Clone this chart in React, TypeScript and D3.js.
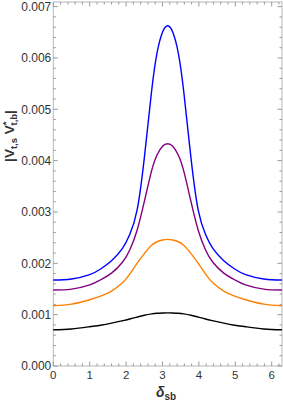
import React, { useEffect, useRef } from 'react';
import * as d3 from 'd3';

// phase delta_sb (radians)
const deltas = [0, 0.5, 1.0, 1.3, 1.6, 1.9, 2.1, 2.3, 2.5, 2.7, 2.85, 3.0, 3.1416,
  3.283, 3.433, 3.583, 3.783, 3.983, 4.183, 4.383, 4.683, 4.983, 5.283, 5.783, 6.2832];

// |V_ts V*_tb|
const blueVals = [0.001674, 0.001695, 0.00178, 0.00189, 0.00205, 0.00229, 0.00256, 0.00303, 0.00405, 0.00535, 0.0061, 0.0065, 0.006626,
  0.0065, 0.0061, 0.00535, 0.00405, 0.00303, 0.00256, 0.00229, 0.00205, 0.00189, 0.00178, 0.001695, 0.001674];
const purpleVals = [0.00148, 0.001497, 0.00158, 0.00168, 0.00181, 0.00202, 0.00226, 0.00264, 0.0032, 0.0038, 0.00411, 0.00428, 0.004328,
  0.00428, 0.00411, 0.0038, 0.0032, 0.00264, 0.00226, 0.00202, 0.00181, 0.00168, 0.00158, 0.001497, 0.00148];
const orangeVals = [0.001174, 0.001205, 0.00129, 0.00136, 0.00146, 0.00162, 0.00179, 0.002, 0.00219, 0.00235, 0.00242, 0.002455, 0.002467,
  0.002455, 0.00242, 0.00235, 0.00219, 0.002, 0.00179, 0.00162, 0.00146, 0.00136, 0.00129, 0.001205, 0.001174];
const blackVals = [0.000706, 0.000722, 0.000765, 0.000795, 0.000835, 0.000882, 0.000915, 0.000952, 0.000988, 0.001015, 0.001027, 0.001033, 0.001035,
  0.001033, 0.001027, 0.001015, 0.000988, 0.000952, 0.000915, 0.000882, 0.000835, 0.000795, 0.000765, 0.000722, 0.000706];

const series = [
  { name: 'blue', values: blueVals, color: '#0000ff' },
  { name: 'purple', values: purpleVals, color: '#800080' },
  { name: 'orange', values: orangeVals, color: '#ff8000' },
  { name: 'black', values: blackVals, color: '#000000' },
];

const xTicks = [0, 1, 2, 3, 4, 5, 6];
const yTicks = [0, 0.001, 0.002, 0.003, 0.004, 0.005, 0.006, 0.007];

const W = 283, H = 403;

const App = () => {
  const ref = useRef<SVGSVGElement>(null);

  useEffect(() => {
    const svg = d3.select(ref.current);
    svg.selectAll('*').remove();

    const left = 53.3, right = 282, top = 2, bottom = 366;
    const x = d3.scaleLinear().domain([0, 2 * Math.PI]).range([left, right]);
    const y = d3.scaleLinear().domain([0, 0.00709]).range([bottom, top]);

    const tickColor = '#9a9a9a';
    const font = '"Liberation Sans", Arial, sans-serif';

    // frame
    svg.append('rect')
      .attr('x', left).attr('y', top)
      .attr('width', right - left).attr('height', bottom - top)
      .attr('fill', 'none').attr('stroke', '#b8b8b8').attr('stroke-width', 1);

    const g = svg.append('g');

    // x ticks (bottom + top), inward
    const xMinor = d3.range(0, 6.3, 0.2).filter((v) => Math.abs(v - Math.round(v)) > 1e-6);
    xTicks.forEach((t) => {
      g.append('line').attr('x1', x(t)).attr('x2', x(t)).attr('y1', bottom).attr('y2', bottom - 4.5).attr('stroke', tickColor);
      g.append('line').attr('x1', x(t)).attr('x2', x(t)).attr('y1', top).attr('y2', top + 4.5).attr('stroke', tickColor);
      g.append('text').attr('x', x(t)).attr('y', bottom + 13)
        .attr('text-anchor', 'middle').attr('font-family', font).attr('font-size', 11.5).attr('fill', '#333')
        .text(String(t));
    });
    xMinor.forEach((t) => {
      g.append('line').attr('x1', x(t)).attr('x2', x(t)).attr('y1', bottom).attr('y2', bottom - 2.5).attr('stroke', tickColor);
      g.append('line').attr('x1', x(t)).attr('x2', x(t)).attr('y1', top).attr('y2', top + 2.5).attr('stroke', tickColor);
    });

    // y ticks (left + right), inward
    const yMinor = d3.range(0, 0.00709, 0.0002).filter((v) => Math.abs(v * 1000 - Math.round(v * 1000)) > 1e-6);
    yTicks.forEach((t) => {
      g.append('line').attr('x1', left).attr('x2', left + 4.5).attr('y1', y(t)).attr('y2', y(t)).attr('stroke', tickColor);
      g.append('line').attr('x1', right).attr('x2', right - 4.5).attr('y1', y(t)).attr('y2', y(t)).attr('stroke', tickColor);
      g.append('text').attr('x', left - 2).attr('y', y(t)).attr('dy', '0.36em')
        .attr('text-anchor', 'end').attr('font-family', font).attr('font-size', 12).attr('fill', '#333')
        .text(d3.format('.3f')(t));
    });
    yMinor.forEach((t) => {
      g.append('line').attr('x1', left).attr('x2', left + 2.5).attr('y1', y(t)).attr('y2', y(t)).attr('stroke', tickColor);
      g.append('line').attr('x1', right).attr('x2', right - 2.5).attr('y1', y(t)).attr('y2', y(t)).attr('stroke', tickColor);
    });

    // curves
    const line = d3.line<number>()
      .x((_, i) => x(deltas[i]))
      .y((d) => y(d))
      .curve(d3.curveNatural);

    series.forEach((s) => {
      svg.append('path')
        .attr('d', line(s.values))
        .attr('fill', 'none')
        .attr('stroke', s.color)
        .attr('stroke-width', 1.4);
    });

    // x label
    const xl = svg.append('text').attr('x', 166).attr('y', 397)
      .attr('text-anchor', 'middle').attr('font-family', font).attr('font-weight', 'bold').attr('fill', '#333');
    xl.append('tspan').attr('font-size', 14).attr('font-style', 'italic').text('δ');
    xl.append('tspan').attr('font-size', 10).attr('dy', 3).text('sb');

    // y label
    const yl = svg.append('text')
      .attr('transform', `translate(14, ${(top + bottom) / 2 - 48}) rotate(-90)`)
      .attr('text-anchor', 'middle').attr('font-family', font).attr('font-weight', 'bold').attr('fill', '#333')
      .attr('font-size', 13.5);
    yl.append('tspan').text('|V');
    yl.append('tspan').attr('font-size', 9.5).attr('dy', 3).text('t,s');
    yl.append('tspan').attr('dy', -3).text(' V');
    yl.append('tspan').attr('font-size', 9.5).attr('dy', -5).text('*');
    yl.append('tspan').attr('font-size', 9.5).attr('dx', -4).attr('dy', 8).text('t,b');
    yl.append('tspan').attr('dy', -3).text('|');
  }, []);

  return (
    <svg ref={ref} width={W} height={H}
      style={{ position: 'absolute', left: 0, top: 0, background: '#fff' }} />
  );
};

export default App;
